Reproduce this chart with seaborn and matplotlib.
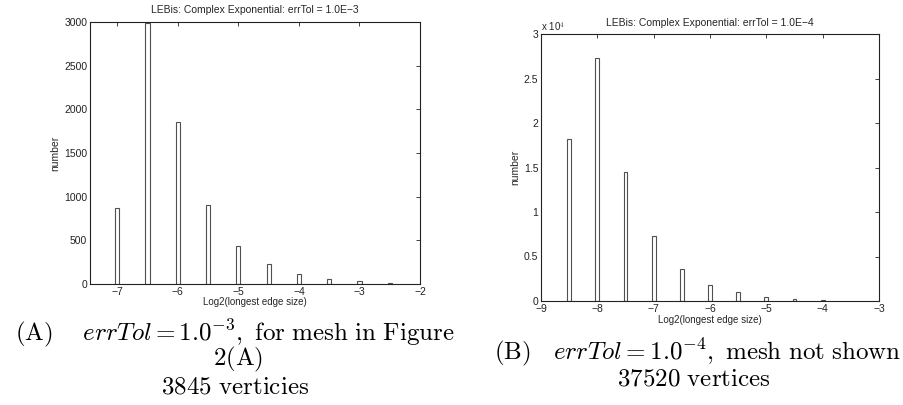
import matplotlib
matplotlib.use("Agg")
import matplotlib.pyplot as plt
import seaborn as sns
import pandas as pd

# ---- data ----
left_x = [-7.0, -6.5, -6.0, -5.5, -5.0, -4.5, -4.0, -3.5, -3.0, -2.5]
left_counts = [870, 2985, 1850, 910, 440, 225, 120, 62, 32, 10]
right_x = [-8.5, -8.0, -7.5, -7.0, -6.5, -6.0, -5.5, -5.0, -4.5, -4.0]
right_counts = [18150, 27250, 14450, 7250, 3650, 1800, 980, 450, 220, 70]
left_title = "LEBis: Complex Exponential: errTol = 1.0E\u22123"
right_title = "LEBis: Complex Exponential: errTol = 1.0E\u22124"
left_xticks = [-7, -6, -5, -4, -3, -2]
left_yticks = [0, 500, 1000, 1500, 2000, 2500, 3000]
right_xticks = [-9, -8, -7, -6, -5, -4, -3]
right_yticks = [0, 5000, 10000, 15000, 20000, 25000, 30000]
right_ytick_labels = ["0", "0.5", "1", "1.5", "2", "2.5", "3"]
xlabel = "Log2(longest edge size)"
ylabel = "number"

sns.set_style("white")
plt.rcParams["font.family"] = ["Liberation Sans", "DejaVu Sans"]
plt.rcParams["mathtext.fontset"] = "cm"

W, H = 904, 405
fig = plt.figure(figsize=(W / 100, H / 100), dpi=100)


def px_axes(l, t, r, b):
    return fig.add_axes([l / W, 1 - b / H, (r - l) / W, (b - t) / H])


axL = px_axes(90, 22, 420, 284)
axR = px_axes(541, 34, 879, 301)

dfL = pd.DataFrame({"x": left_x, "y": left_counts})
dfR = pd.DataFrame({"x": right_x, "y": right_counts})

bar_kw = dict(native_scale=True, width=0.14, color="white", edgecolor="#505050",
              linewidth=0.8, errorbar=None)
sns.barplot(data=dfL, x="x", y="y", ax=axL, **bar_kw)
sns.barplot(data=dfR, x="x", y="y", ax=axR, **bar_kw)


def style(ax):
    for s in ax.spines.values():
        s.set_visible(True)
        s.set_color("#222222")
        s.set_linewidth(0.8)
    ax.tick_params(direction="in", length=3, width=0.6, top=True, right=True,
                   labelsize=7.5, colors="#222222", pad=2)
    ax.set_xlabel(xlabel, fontsize=7)
    ax.set_ylabel(ylabel, fontsize=7.5)


axL.set_xlim(-7.45, -2)
axL.set_ylim(0, 3000)
axL.set_xticks(left_xticks)
axL.set_yticks(left_yticks)
style(axL)
axL.yaxis.set_label_coords(-0.091, 0.5)
axL.xaxis.set_label_coords(0.5, -0.05)
axL.text(0.5, 1.044, left_title, transform=axL.transAxes, ha="center", va="center", fontsize=7.5)

axR.set_xlim(-9, -3)
axR.set_ylim(0, 30000)
axR.set_xticks(right_xticks)
axR.set_yticks(right_yticks)
axR.set_yticklabels(right_ytick_labels)
style(axR)
axR.yaxis.set_label_coords(-0.062, 0.5)
axR.xaxis.set_label_coords(0.5, -0.053)
axR.text(0.5, 1.043, right_title, transform=axR.transAxes, ha="center", va="center", fontsize=7.5)
axR.text(0.0, 1.026, r"x 10$^{4}$", transform=axR.transAxes, ha="left", va="center", fontsize=7)

# ---- captions ----
cap = dict(ha="center", va="baseline", fontsize=18, color="black")
fig.text(235 / W, 1 - 340 / H, r"$\mathrm{(A)}\quad\ errTol = 1.0^{-3}\mathrm{,\ for\ mesh\ in\ Figure}$", **cap)
fig.text(238 / W, 1 - 365 / H, r"$\mathrm{2(A)}$", **cap)
fig.text(235 / W, 1 - 394 / H, r"$\mathrm{3845\ verticies}$", **cap)
fig.text(698 / W, 1 - 359 / H, r"$\mathrm{(B)}\quad errTol = 1.0^{-4}\mathrm{,\ mesh\ not\ shown}$", **cap)
fig.text(694 / W, 1 - 386 / H, r"$\mathrm{37520\ vertices}$", **cap)

fig.savefig("out.png", dpi=100)
